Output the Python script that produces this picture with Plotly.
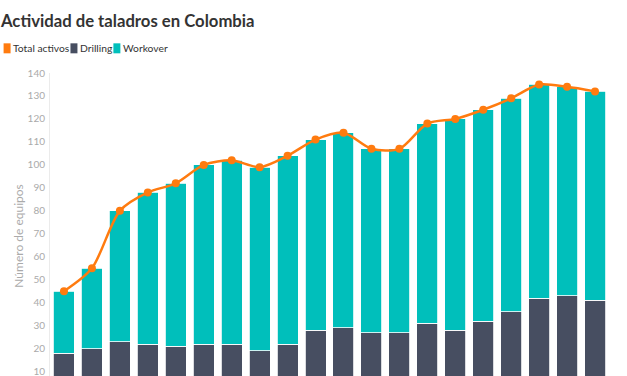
import plotly.graph_objects as go

categories = [str(i) for i in range(1, 21)]
total_activos = [45, 55, 80, 88, 92, 100, 102, 99, 104, 111, 114, 107, 107, 118, 120, 124, 129, 135, 134, 132]
drilling = [18, 20, 23, 22, 21, 22, 22, 19, 22, 28, 29, 27, 27, 31, 28, 32, 36, 42, 43, 41]
workover = [t - d for t, d in zip(total_activos, drilling)]
y_ticks = list(range(10, 150, 10))

ORANGE = "#FF7B0F"
DARK = "#474E61"
TEAL = "#00BFBB"
FONT = "Lato"

ML, MT, W, H = 49.5, 72.7, 627, 376
PW = W - ML - 17.5
PH = H - MT

fig = go.Figure()
fig.add_trace(go.Bar(x=categories, y=drilling, name="Drilling", marker=dict(color=DARK, line=dict(color="white", width=0.8))))
fig.add_trace(go.Bar(x=categories, y=workover, name="Workover", marker=dict(color=TEAL, line=dict(color="white", width=0.8))))
fig.add_trace(go.Scatter(x=categories, y=total_activos, name="Total activos", mode="lines+markers",
                         line=dict(color=ORANGE, width=2.5, shape="spline", smoothing=0.8),
                         marker=dict(color=ORANGE, size=8)))

fig.update_layout(
    width=W, height=H,
    margin=dict(l=ML, r=17.5, t=MT, b=0, pad=0),
    barmode="stack", bargap=0.25,
    plot_bgcolor="white", paper_bgcolor="white",
    showlegend=False,
    font=dict(family=FONT),
    xaxis=dict(showticklabels=False, showgrid=False, zeroline=False, showline=False, range=[-0.5, 19.5]),
    yaxis=dict(range=[8.1, 140], tickvals=y_ticks, showgrid=False, zeroline=False,
               showline=True, linecolor="#ebebeb", linewidth=1, ticklabeloverflow="allow",
               tickfont=dict(family=FONT, size=10, color="#aaaaaa"), ticklabelstandoff=2),
)

def px_x(p):
    return (p - ML) / PW

def px_y(p):
    return (H - p) / PH

# Title
fig.add_annotation(text="<b>Actividad de taladros en Colombia</b>", xref="paper", yref="paper",
                   x=px_x(-3), y=px_y(21), xanchor="left", yanchor="middle",
                   showarrow=False, font=dict(family=FONT, size=16.7, color="#333333"))

# Axis title
fig.add_annotation(text="Número de equipos", xref="paper", yref="paper", x=px_x(18.5), y=px_y(236.5),
                   xanchor="center", yanchor="middle", textangle=-90, showarrow=False,
                   font=dict(family=FONT, size=12, color="#aaaaaa"))

# Custom legend
legend_items = [("Total activos", ORANGE, 3), ("Drilling", DARK, 70), ("Workover", TEAL, 113)]
for name, color, px in legend_items:
    fig.add_shape(type="rect", xref="paper", yref="paper",
                  x0=px_x(px), x1=px_x(px + 7), y0=px_y(53), y1=px_y(43),
                  fillcolor=color, line=dict(width=0), layer="above")
    fig.add_annotation(text=name, xref="paper", yref="paper", x=px_x(px + 7.5), y=px_y(48),
                       xanchor="left", yanchor="middle", showarrow=False,
                       font=dict(family=FONT, size=10.3, color="#333333"))

fig.write_html("out.html", config={"displayModeBar": False},
               post_script="document.body.style.margin='0';document.body.style.overflow='hidden';")
